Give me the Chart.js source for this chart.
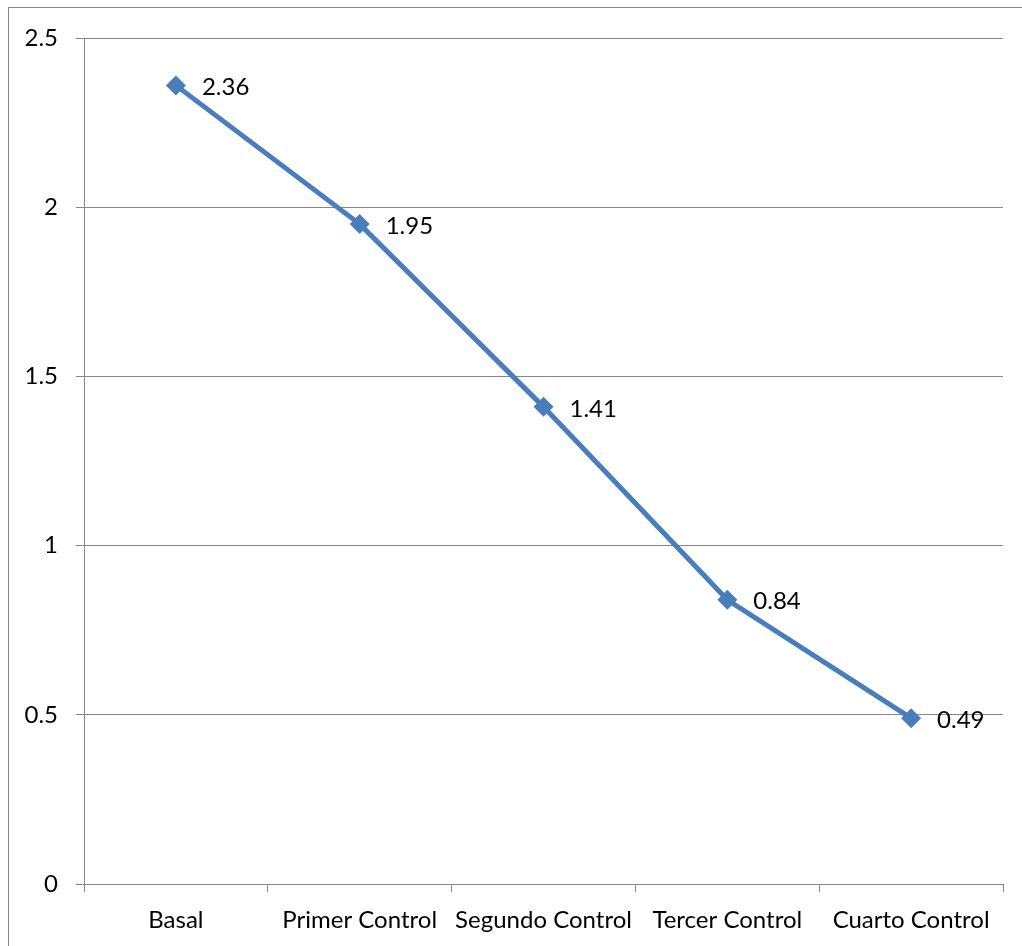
<!DOCTYPE html>
<html>
<head>
<meta charset="utf-8">
<script src="https://cdn.jsdelivr.net/npm/chart.js@4/dist/chart.umd.min.js"></script>
<style>
html,body{margin:0;padding:0;background:#fff;overflow:hidden;}
#wrap{position:absolute;left:0;top:0;width:1022px;height:946px;}
</style>
</head>
<body>
<div id="wrap"><canvas id="c" width="1022" height="946"></canvas></div>
<script>
const categories = ["Basal", "Primer Control", "Segundo Control", "Tercer Control", "Cuarto Control"];
const values = [2.36, 1.95, 1.41, 0.84, 0.49];
const yTicks = [0, 0.5, 1, 1.5, 2, 2.5];

const FONT = "Lato, 'Open Sans', sans-serif";
const GRID = "#868686";
const BLUE = "#4a7ebb";

const frame = {
  id: 'frame',
  beforeDraw(chart) {
    const ctx = chart.ctx;
    ctx.save();
    ctx.fillStyle = '#fff';
    ctx.fillRect(0, 0, chart.width, chart.height);
    ctx.strokeStyle = GRID;
    ctx.lineWidth = 1;
    ctx.strokeRect(8.5, 7.5, 1030, 960);
    ctx.restore();
  }
};

const labels = {
  id: 'valueLabels',
  afterDatasetsDraw(chart) {
    const ctx = chart.ctx;
    const meta = chart.getDatasetMeta(0);
    ctx.save();
    ctx.font = "24px " + FONT;
    ctx.fillStyle = '#000';
    ctx.textAlign = 'left';
    ctx.textBaseline = 'middle';
    meta.data.forEach((pt, i) => {
      ctx.fillText(values[i].toFixed(2), pt.x + 26, pt.y + 2);
    });
    ctx.restore();
  }
};

new Chart(document.getElementById('c'), {
  type: 'line',
  data: {
    labels: categories,
    datasets: [{
      data: values,
      borderColor: BLUE,
      backgroundColor: BLUE,
      borderWidth: 5,
      pointStyle: 'rectRot',
      pointRadius: 10,
      pointHoverRadius: 10,
      pointBorderWidth: 0,
      tension: 0,
      fill: false
    }]
  },
  options: {
    responsive: false,
    animation: false,
    events: [],
    layout: { padding: { top: 38, right: 19, left: 0, bottom: 0 } },
    plugins: { legend: { display: false }, tooltip: { enabled: false } },
    scales: {
      x: {
        offset: true,
        grid: { offset: true, drawOnChartArea: false, drawTicks: true, tickLength: 8, color: GRID, lineWidth: 1 },
        border: { display: true, color: GRID, width: 1 },
        ticks: { font: { family: FONT, size: 24 }, color: '#000', padding: 14, maxRotation: 0, autoSkip: false },
        afterFit(s) { s.height = 62; }
      },
      y: {
        min: 0, max: 2.5,
        afterBuildTicks(s) { s.ticks = yTicks.map(v => ({ value: v })); },
        grid: { color: GRID, lineWidth: 1, tickLength: 8 },
        border: { display: true, color: GRID, width: 1 },
        ticks: { font: { family: FONT, size: 24 }, color: '#000', padding: 18,
          callback: v => String(v) },
        afterFit(s) { s.width = 84; }
      }
    }
  },
  plugins: [frame, labels]
});
</script>
</body>
</html>
